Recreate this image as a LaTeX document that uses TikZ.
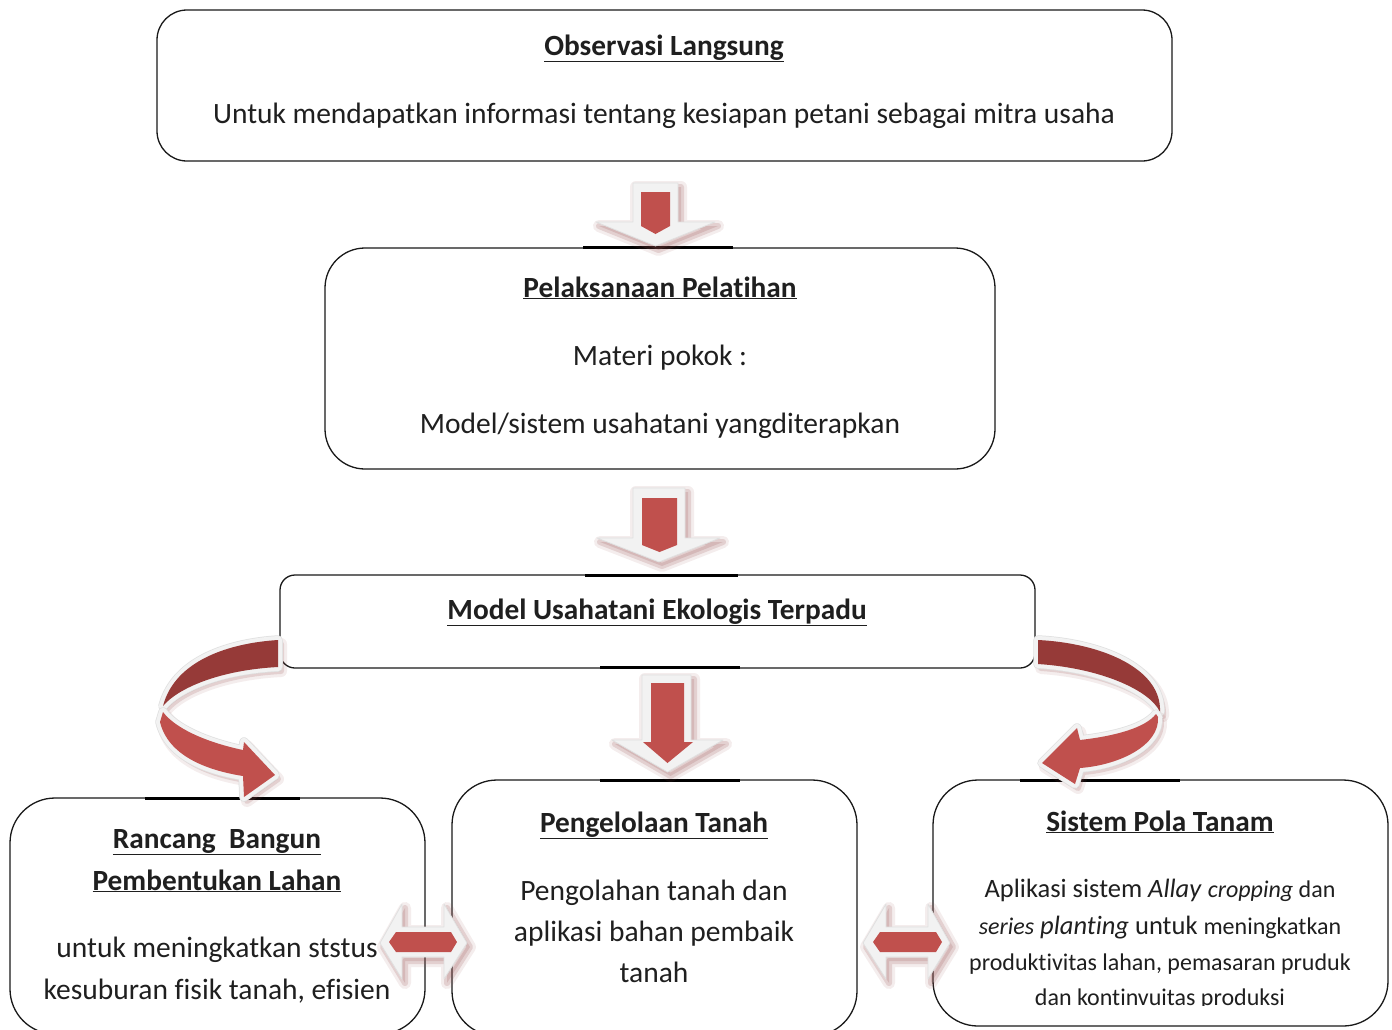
\documentclass[tikz,border=0pt]{standalone}
\usepackage{fontspec}
\setmainfont{Carlito}[Ligatures=NoCommon]
\definecolor{redL}{RGB}{192,80,77}
\definecolor{redD}{RGB}{150,58,56}
\definecolor{glowc}{RGB}{242,242,242}
\definecolor{shadowc}{RGB}{150,80,80}
\definecolor{linec}{RGB}{25,25,25}
\tikzset{
  box/.style={draw=linec, line width=1.3pt, fill=none, inner sep=0pt},
  txt/.style={font=\fontsize{29.5}{34}\selectfont, anchor=base, inner sep=0pt, text=black!88},
  ttl/.style={txt, font=\fontsize{29.3}{34}\selectfont\bfseries},
  smt/.style={txt, font=\fontsize{26.5}{30}\selectfont},
  shad/.style={preaction={draw=shadowc, line width=12pt, opacity=0.10, line join=round, transform canvas={shift={(3pt,-4pt)}}},
               preaction={draw=shadowc, fill=shadowc, line width=6pt, opacity=0.18, line join=round, transform canvas={shift={(3pt,-4pt)}}}},
  glowshape/.style={shad, fill=glowc, draw=black!12, line width=0.8pt, line join=round},
  ribbon/.style={fill=#1, shad, preaction={draw=black!12, line width=9.5pt, line join=round}, preaction={draw=glowc, line width=8pt, line join=round}},
  thickseg/.style={draw=black, line width=2.6pt}
}
\newcommand\smallpart[1]{{\fontsize{24}{28}\selectfont #1}}
\begin{document}
\begin{tikzpicture}[x=1pt,y=-1pt]
\useasboundingbox (0,0) rectangle (1392,1029);
\clip (0,0) rectangle (1392,1029);
\fill[white] (0,0) rectangle (1392,1029);

% boxes
\node[box, rounded corners=30pt, minimum width=1015pt, minimum height=151pt] (obs) at (664.5,85.5) {};
\node[box, rounded corners=40pt, minimum width=670pt, minimum height=221pt] (pel) at (660,358.5) {};
\node[box, rounded corners=15pt, minimum width=755pt, minimum height=93pt] (mod) at (657.5,621.5) {};
\node[box, rounded corners=45pt, minimum width=415pt, minimum height=236pt] (ran) at (217.5,916) {};
\node[box, rounded corners=45pt, minimum width=405pt, minimum height=256pt] (pen) at (654.5,908) {};
\node[box, rounded corners=45pt, minimum width=455pt, minimum height=246pt] (sis) at (1160.5,903) {};

% thick segments on borders
\draw[thickseg] (583,247.5) -- (733,247.5);
\draw[thickseg] (585,575.5) -- (738,575.5);
\draw[thickseg] (600,667.5) -- (740,667.5);
\draw[thickseg] (600,780.5) -- (740,780.5);
\draw[thickseg] (145,798.5) -- (300,798.5);
\draw[thickseg] (1020,780.5) -- (1180,780.5);

% texts
\node[ttl] (t1) at (664,55) {\underline{Observasi Langsung}};
\node[txt] (t1b) at (664,123) {Untuk mendapatkan informasi tentang kesiapan petani sebagai mitra usaha};
\node[ttl] (t2) at (660,297) {\underline{Pelaksanaan Pelatihan}};
\node[txt] (t2b) at (660,365) {Materi pokok :};
\node[txt] (t2c) at (660,433) {Model/sistem usahatani yangditerapkan};
\node[ttl] (t3) at (657,619) {\underline{Model Usahatani Ekologis Terpadu}};
\node[ttl] (t4) at (217,848) {\underline{Rancang\ \ Bangun}};
\node[ttl] (t4b) at (217,890) {\underline{Pembentukan Lahan}};
\node[txt] (t4c) at (217,957) {untuk meningkatkan ststus};
\node[txt] (t4d) at (217,999) {kesuburan fisik tanah, efisien};
\node[ttl] (t5) at (654,832) {\underline{Pengelolaan Tanah}};
\node[txt] (t5b) at (654,900) {Pengolahan tanah dan};
\node[txt] (t5c) at (654,941) {aplikasi bahan pembaik};
\node[txt] (t5d) at (654,982) {tanah};
\node[ttl] (t6) at (1160,831) {\underline{Sistem Pola Tanam}};
\node[smt] (t6b) at (1160,897) {Aplikasi sistem \textit{Allay} \smallpart{\textit{cropping} dan}};
\node[smt] (t6c) at (1160,934) {\smallpart{\textit{series}} \textit{planting} untuk \smallpart{meningkatkan}};
\node[smt, font=\fontsize{24}{28}\selectfont] (t6d) at (1160,970) {produktivitas lahan, pemasaran pruduk};
\begin{scope}
\clip (940,900) rectangle (1380,1005);
\node[smt, font=\fontsize{24}{28}\selectfont] (t6e) at (1160,1005) {dan kontinvuitas produksi};
\end{scope}

% down arrow 1
\path[glowshape] (633,183) -- (678,183) -- (678,222) -- (715,222) -- (655.5,246) -- (596,222) -- (633,222) -- cycle;
\fill[redL] (641,192) -- (670,192) -- (670,226) -- (655.5,234) -- (641,226) -- cycle;
% down arrow 2
\path[glowshape] (633,488) -- (685,488) -- (685,538) -- (720,538) -- (659,562) -- (597,538) -- (633,538) -- cycle;
\fill[redL] (642,498) -- (677,498) -- (677,545) -- (659.5,552) -- (642,545) -- cycle;
% down arrow 3
\path[glowshape] (642,675) -- (691,675) -- (691,740) -- (723,740) -- (667.5,772) -- (612,740) -- (642,740) -- cycle;
\fill[redL] (651,683) -- (684,683) -- (684,742) -- (693,742) -- (667.5,763) -- (643,742) -- (651,742) -- cycle;

% double arrows
\path[glowshape] (380,943) -- (402,904) -- (402,927) -- (444,927) -- (444,904) -- (467,943) -- (444,979) -- (444,957) -- (402,957) -- (402,979) -- cycle;
\fill[redL] (389,942) -- (396,932) -- (451,932) -- (457,942) -- (451,952) -- (396,952) -- cycle;
\path[glowshape] (863,943) -- (886,904) -- (886,927) -- (928,927) -- (928,904) -- (950,943) -- (928,979) -- (928,957) -- (886,957) -- (886,979) -- cycle;
\fill[redL] (873,942) -- (880,932) -- (936,932) -- (942,942) -- (936,952) -- (880,952) -- cycle;

% left curved arrow
\path[ribbon=redD] (278,640) .. controls (230,643) and (175,660) .. (163,706)
   .. controls (178,688) and (220,670) .. (278,667) -- cycle;
\path[ribbon=redL] (163,712) .. controls (175,728) and (205,742) .. (243,750)
   -- (244,742) -- (275,775) -- (244,797) -- (243,776)
   .. controls (205,770) and (168,755) .. (160,722) -- cycle;

% right curved arrow
\path[ribbon=redD] (1038,640) .. controls (1100,643) and (1162,668) .. (1160,712)
   .. controls (1150,690) and (1100,668) .. (1038,664) -- cycle;
\path[ribbon=redL] (1158,717) .. controls (1160,745) and (1120,765) .. (1080,768)
   -- (1075,784) -- (1042,763) -- (1077,728) -- (1080,740)
   .. controls (1115,736) and (1145,728) .. (1156,714) -- cycle;
\end{tikzpicture}
\end{document}
